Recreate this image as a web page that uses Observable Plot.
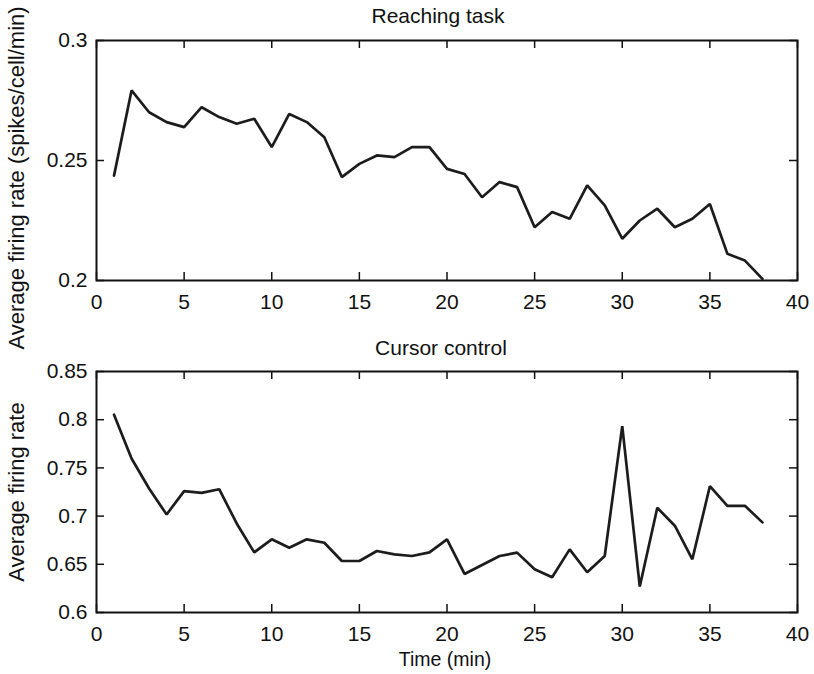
<!DOCTYPE html>
<html><head><meta charset="utf-8">
<script src="https://cdn.jsdelivr.net/npm/d3@7"></script>
<script src="https://cdn.jsdelivr.net/npm/@observablehq/plot@0.6"></script>
<style>
body{margin:0;background:#fff;font-family:"Liberation Sans",Arial,Helvetica,sans-serif;}
#wrap{position:relative;width:814px;height:674px;overflow:hidden;}
.lbl{position:absolute;font-size:21px;line-height:1;color:#111;white-space:nowrap;transform:translate(-50%,-50%);}
.xlab{position:absolute;font-size:19.5px;line-height:1;color:#111;white-space:nowrap;transform:translate(-50%,-50%);}
.ylab{position:absolute;font-size:22px;line-height:1;color:#111;white-space:nowrap;transform:translate(-50%,-50%) rotate(-90deg);}
</style></head>
<body><div id="wrap"></div>
<script>
const minutes = [1,2,3,4,5,6,7,8,9,10,11,12,13,14,15,16,17,18,19,20,21,22,23,24,25,26,27,28,29,30,31,32,33,34,35,36,37,38];
const reachingRate = [0.2437,0.2792,0.2701,0.2660,0.2639,0.2722,0.2681,0.2653,0.2674,0.2556,
  0.2694,0.2660,0.2597,0.2431,0.2486,0.2521,0.2514,0.2556,0.2556,0.2465,
  0.2444,0.2347,0.2410,0.2389,0.2222,0.2285,0.2257,0.2396,0.2313,0.2174,
  0.2250,0.2299,0.2222,0.2257,0.2319,0.2111,0.2083,0.2007];
const cursorRate = [0.8052,0.7597,0.7286,0.7017,0.7259,0.7241,0.7279,0.6924,0.6624,0.6759,
  0.6672,0.6759,0.6724,0.6534,0.6534,0.6638,0.6603,0.6586,0.6624,0.6759,
  0.6400,0.6493,0.6586,0.6621,0.6448,0.6366,0.6655,0.6417,0.6586,0.7934,
  0.6269,0.7086,0.6900,0.6552,0.7310,0.7107,0.7107,0.6935];
const xTicks = [0,5,10,15,20,25,30,35,40];
const reachingTicks = [0.2,0.25,0.3];
const cursorTicks = [0.6,0.65,0.7,0.75,0.8,0.85];
const titles = ["Reaching task","Cursor control"];
const yLabels = ["Average firing rate (spikes/cell/min)","Average firing rate"];
const xLabel = "Time (min)";

const wrap = document.getElementById("wrap");
const W = 814, ML = 96, MR = 17, TICK = 8;
const font = '"Liberation Sans",Arial,Helvetica,sans-serif';

function panel(values, yTicks, top, mTop, plotH, mBottom) {
  const data = minutes.map((m, i) => ({m, v: values[i]}));
  const pw = W - ML - MR;
  const chart = Plot.plot({
    width: W, height: mTop + plotH + mBottom,
    marginLeft: ML, marginRight: MR, marginTop: mTop, marginBottom: mBottom,
    style: {fontFamily: font, fontSize: "21px", color: "#111", background: "transparent"},
    x: {domain: [0, 40]},
    y: {domain: [yTicks[0], yTicks[yTicks.length - 1]]},
    marks: [
      Plot.tickX(xTicks, {x: d => d, insetTop: plotH - TICK, stroke: "#111", strokeWidth: 1.5}),
      Plot.tickX(xTicks, {x: d => d, insetBottom: plotH - TICK, stroke: "#111", strokeWidth: 1.5}),
      Plot.tickY(yTicks, {y: d => d, insetRight: pw - TICK, stroke: "#111", strokeWidth: 1.5}),
      Plot.tickY(yTicks, {y: d => d, insetLeft: pw - TICK, stroke: "#111", strokeWidth: 1.5}),
      Plot.axisX({ticks: xTicks, tickSize: 0, tickPadding: 14, label: null, tickFormat: d => String(d)}),
      Plot.axisY({ticks: yTicks, tickSize: 0, tickPadding: 9, label: null, tickFormat: d => String(d)}),
      Plot.lineY(data, {x: "m", y: "v", stroke: "#1c1c1c", strokeWidth: 2.7, strokeLinejoin: "miter"}),
      Plot.frame({stroke: "#111", strokeWidth: 2})
    ]
  });
  chart.style.position = "absolute";
  chart.style.left = "0px";
  chart.style.top = top + "px";
  wrap.appendChild(chart);
}

panel(reachingRate, reachingTicks, 0, 40, 240, 36);
panel(cursorRate, cursorTicks, 330, 41, 241, 40);

function addText(cls, text, x, y) {
  const d = document.createElement("div");
  d.className = cls; d.textContent = text;
  d.style.left = x + "px"; d.style.top = y + "px";
  wrap.appendChild(d);
}
addText("lbl", titles[0], 438, 15);
addText("lbl", titles[1], 441, 347);
addText("xlab", xLabel, 445, 660);
addText("ylab", yLabels[0], 17, 178);
addText("ylab", yLabels[1], 17, 492);
</script>
</body></html>
